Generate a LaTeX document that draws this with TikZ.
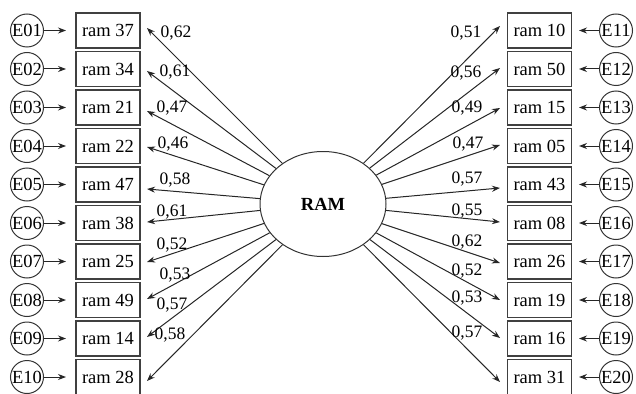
\documentclass[tikz,border=0pt]{standalone}
\usepackage{fontspec}
\setmainfont{Liberation Serif}
\usetikzlibrary{arrows.meta,shapes.geometric}
\begin{document}
\begin{tikzpicture}[x=1pt,y=-1pt,
  item/.style={draw=black!75,line width=1.2pt,minimum width=64pt,minimum height=35pt,inner sep=0pt,font=\fontsize{18.5}{20}\selectfont},
  err/.style={draw=black!80,line width=1pt,circle,minimum size=33pt,inner sep=0pt,font=\fontsize{18.5}{20}\selectfont},
  lat/.style={draw=black!80,line width=1pt,ellipse,minimum width=126pt,minimum height=105pt,inner sep=0pt,font=\bfseries\fontsize{18.5}{20}\selectfont},
  load/.style={font=\fontsize{17.5}{19}\selectfont,inner sep=0pt},
  con/.style={draw=black!85,line width=1pt,-{Stealth[length=8pt,width=6pt]}}
]
\useasboundingbox (0,0) rectangle (636,393);
\node[lat] (ram) at (323,204) {RAM};
% left side
\foreach \i/\lab/\err/\ty/\w/\lx/\ly in {
  0/37/E01/28/{0,62}/176/33,
  1/34/E02/71/{0,61}/175/72,
  2/21/E03/111/{0,47}/172/108,
  3/22/E04/147/{0,46}/173/144,
  4/47/E05/189/{0,58}/175/180,
  5/38/E06/222/{0,61}/172/212,
  6/25/E07/262/{0,52}/172/245,
  7/49/E08/299/{0,53}/175/275,
  8/14/E09/337/{0,57}/172/305,
  9/28/E10/381/{0,58}/170/335}{
  \pgfmathsetmacro\yc{30.5+38.5*\i}
  \node[item] (L\i) at (108,\yc) {ram \lab};
  \node[err] (EL\i) at (27,\yc) {\err};
  \coordinate (LT\i) at (66,\yc);
  \draw[con] (EL\i) -- (LT\i);
  \coordinate (LA\i) at (147,\ty);
  \draw[con] (ram) -- (LA\i);
  \node[load] (LL\i) at (\lx,\ly) {\w};
}
% right side
\foreach \i/\lab/\err/\ty/\w/\lx/\ly in {
  0/10/E11/26/{0,51}/466/33,
  1/50/E12/68/{0,56}/466/73,
  2/15/E13/108/{0,49}/467/108,
  3/05/E14/145/{0,47}/468/144,
  4/43/E15/188/{0,57}/467/179,
  5/08/E16/222/{0,55}/467/211,
  6/26/E17/263/{0,62}/467/242,
  7/19/E18/300/{0,52}/467/271,
  8/16/E19/338/{0,53}/467/298,
  9/31/E20/382/{0,57}/467/333}{
  \pgfmathsetmacro\yc{30.5+38.5*\i}
  \node[item] (R\i) at (539.5,\yc) {ram \lab};
  \node[err] (ER\i) at (616,\yc) {\err};
  \coordinate (RT\i) at (579,\yc);
  \draw[con] (ER\i) -- (RT\i);
  \coordinate (RA\i) at (500,\ty);
  \draw[con] (ram) -- (RA\i);
  \node[load] (RL\i) at (\lx,\ly) {\w};
}
\end{tikzpicture}
\end{document}
